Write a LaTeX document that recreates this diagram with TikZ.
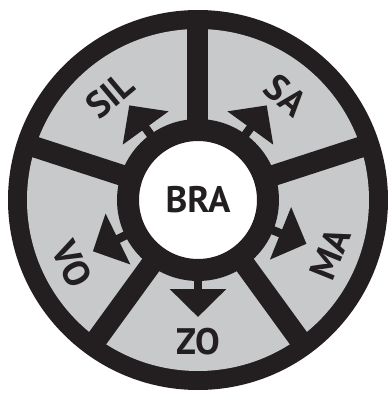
\documentclass[tikz,border=0pt]{standalone}
\usepackage{fontspec}
\setmainfont{PT Sans}
\usetikzlibrary{arrows.meta}
\definecolor{ink}{RGB}{35,31,32}
\definecolor{sectorgray}{RGB}{200,201,203}
\begin{document}
\begin{tikzpicture}[x=0.02cm, y=0.02cm,
  divider/.style={ink, line width=0.42cm},
  spoke/.style={ink, line width=0.17cm, shorten <=-0.12cm, -{Triangle[width=1.1cm, length=0.56cm]}},
  sectorlabel/.style={font=\fontsize{21}{21}\selectfont\bfseries, text=ink, inner sep=0pt}]
\useasboundingbox (-198,-193) rectangle (190,200);
\fill[ink] (0,0) circle (190);
\fill[sectorgray] (0,0) circle (171);
\foreach \a in {18,90,162,234,306}
  \draw[divider] (0,0) -- (\a:180);
\node[circle, draw=ink, fill=white, line width=0.44cm, minimum size=2.8cm, inner sep=0pt, font=\fontsize{21}{21}\selectfont\bfseries, text=ink] (bra) at (0,0) {BRA};
\foreach \a in {54,126,206,270,338}
  \draw[spoke] (bra.\a) -- (\a:117);
\node[sectorlabel, rotate=-40] (sa) at (50:137) {SA};
\node[sectorlabel, rotate=40] (sil) at (130:137) {SIL};
\node[sectorlabel, rotate=68] (ma) at (338:143) {MA};
\node[sectorlabel, rotate=-63] (vo) at (207:141) {VO};
\node[sectorlabel] (zo) at (270:142) {ZO};
\end{tikzpicture}
\end{document}
